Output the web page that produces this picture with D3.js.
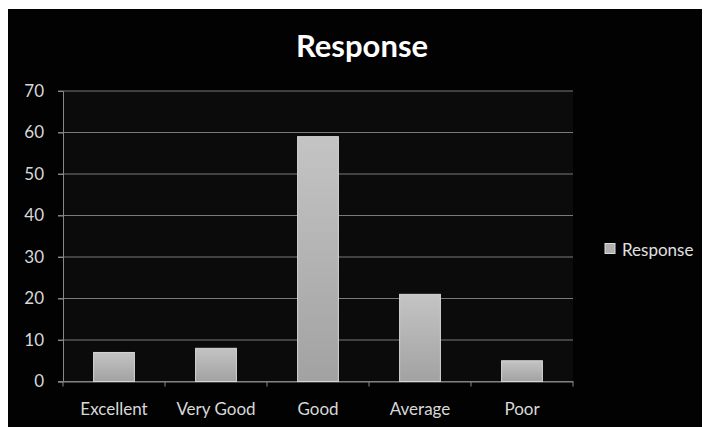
<!DOCTYPE html>
<html><head><meta charset="utf-8">
<script src="https://cdn.jsdelivr.net/npm/d3@7"></script>
<style>body{margin:0;background:#fff;} svg{display:block;}</style>
</head><body>
<script>
const categories = ["Excellent", "Very Good", "Good", "Average", "Poor"];
const values = [7, 8, 59, 21, 5];
const seriesName = "Response";
const yTicks = [0, 10, 20, 30, 40, 50, 60, 70];

const W = 705, H = 427;
const svg = d3.select("body").append("svg").attr("width", W).attr("height", H);
svg.append("rect").attr("x", 8).attr("y", 9).attr("width", 694).attr("height", 420).attr("fill", "#020202");

const m = {left: 63, right: 573, top: 91, bottom: 381.5};
const x = d3.scaleBand().domain(categories).range([m.left, m.right]).paddingInner(0.6).paddingOuter(0.3);
const y = d3.scaleLinear().domain([0, 70]).range([m.bottom, m.top]);

svg.append("rect").attr("x", m.left).attr("y", m.top).attr("width", m.right - m.left).attr("height", m.bottom - m.top).attr("fill", "#0b0b0b");

const font = "Lato, 'Open Sans', sans-serif";
// gridlines
svg.append("g").selectAll("line").data(yTicks).join("line")
  .attr("x1", m.left - 5).attr("x2", m.right)
  .attr("y1", d => y(d)).attr("y2", d => y(d))
  .attr("stroke", "#7a7a7a").attr("stroke-width", 1);

// y axis
const yAxis = d3.axisLeft(y).tickValues(yTicks).tickSize(5).tickPadding(14);
const gy = svg.append("g").attr("transform", `translate(${m.left},0)`).call(yAxis);
gy.select(".domain").attr("stroke", "#888");
gy.selectAll(".tick line").attr("stroke", "#888");
gy.selectAll("text").attr("fill", "#d8d8d8").attr("font-size", 17).attr("font-family", font);

// x axis
const xAxis = d3.axisBottom(x).tickSize(0).tickPadding(21);
const gx = svg.append("g").attr("transform", `translate(0,${m.bottom})`).call(xAxis);
gx.select(".domain").attr("stroke", "#888");
gx.selectAll("text").attr("fill", "#d8d8d8").attr("font-size", 17).attr("font-family", font);
svg.append("g").selectAll("line").data(d3.range(categories.length + 1)).join("line")
  .attr("x1", i => m.left + i * (m.right - m.left) / categories.length)
  .attr("x2", i => m.left + i * (m.right - m.left) / categories.length)
  .attr("y1", m.bottom).attr("y2", m.bottom + 5)
  .attr("stroke", "#888");

// gradient
const defs = svg.append("defs");
const grad = defs.append("linearGradient").attr("id", "barg").attr("x1", 0).attr("x2", 0).attr("y1", 0).attr("y2", 1);
grad.append("stop").attr("offset", "0%").attr("stop-color", "#c4c4c4");
grad.append("stop").attr("offset", "100%").attr("stop-color", "#a2a2a2");

svg.append("g").selectAll("rect").data(categories).join("rect")
  .attr("x", d => x(d)).attr("width", x.bandwidth())
  .attr("y", (d, i) => y(values[i])).attr("height", (d, i) => y(0) - y(values[i]))
  .attr("fill", "url(#barg)").attr("stroke", "#d8d8d8").attr("stroke-width", 1);

// title
svg.append("text").attr("x", 362).attr("y", 57).attr("text-anchor", "middle")
  .attr("fill", "#fff").attr("font-weight", "bold").attr("font-size", 31).attr("font-family", font).text(seriesName);

// legend
svg.append("rect").attr("x", 605).attr("y", 243.5).attr("width", 10).attr("height", 10).attr("fill", "#b0b0b0").attr("stroke", "#ddd");
svg.append("text").attr("x", 622).attr("y", 256).attr("fill", "#e0e0e0").attr("font-size", 17).attr("font-family", font).text(seriesName);
</script>
</body></html>
